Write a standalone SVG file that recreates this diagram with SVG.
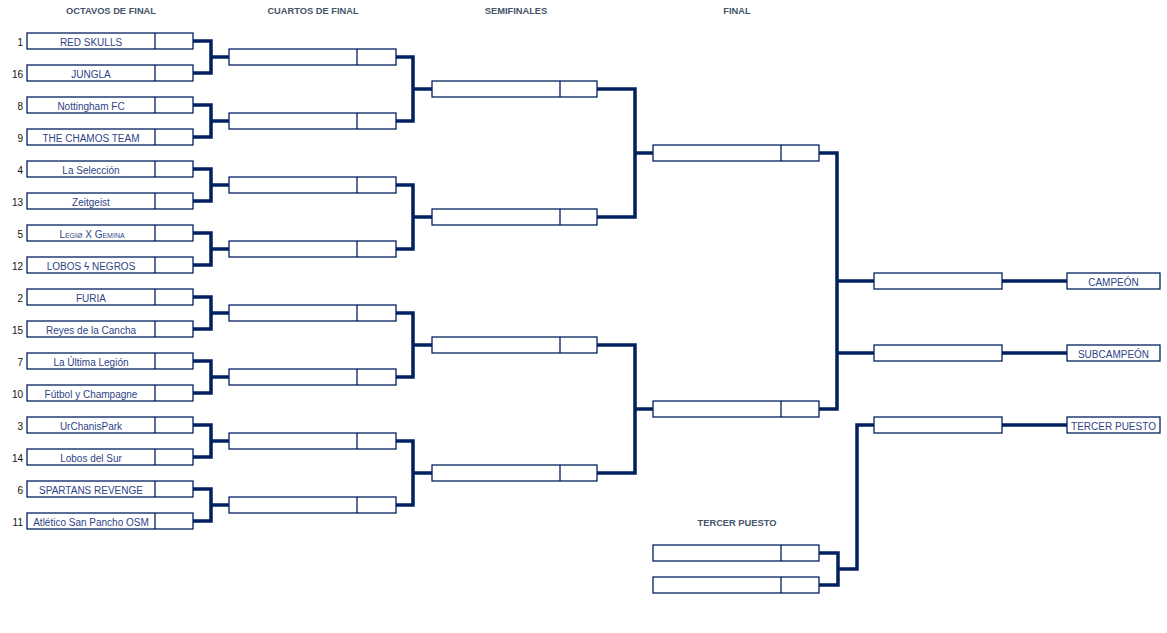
<svg xmlns="http://www.w3.org/2000/svg" width="1167" height="633" viewBox="0 0 1167 633">
<style>
.b{fill:#fff;stroke:#002060;stroke-width:1.3}
.d{stroke:#002060;stroke-width:1.3}
.c{fill:none;stroke:#002060;stroke-width:3.5;stroke-linejoin:miter}
.h{font-family:"Liberation Sans",Arial,sans-serif;font-size:9.3px;font-weight:bold;fill:#44546A;text-anchor:middle}
.t{font-family:"Liberation Sans",Arial,sans-serif;font-size:10px;fill:#2E4485;text-anchor:middle}
.s{font-family:"Liberation Sans",Arial,sans-serif;font-size:10px;fill:#111;text-anchor:end}
</style>
<rect width="1167" height="633" fill="#fff"/>
<g id="headers">
<text class="h" x="111" y="14">OCTAVOS DE FINAL</text>
<text class="h" x="313" y="14">CUARTOS DE FINAL</text>
<text class="h" x="516" y="14">SEMIFINALES</text>
<text class="h" x="737" y="14">FINAL</text>
<text class="h" x="737" y="526">TERCER PUESTO</text>
</g>
<g id="connectors">
<path class="c" d="M193,41H211V73H193M211,57H229"/>
<path class="c" d="M193,105H211V137H193M211,121H229"/>
<path class="c" d="M193,169H211V201H193M211,185H229"/>
<path class="c" d="M193,233H211V265H193M211,249H229"/>
<path class="c" d="M193,297H211V329H193M211,313H229"/>
<path class="c" d="M193,361H211V393H193M211,377H229"/>
<path class="c" d="M193,425H211V457H193M211,441H229"/>
<path class="c" d="M193,489H211V521H193M211,505H229"/>
<path class="c" d="M396,57H413V121H396M413,89H432"/>
<path class="c" d="M396,185H413V249H396M413,217H432"/>
<path class="c" d="M396,313H413V377H396M413,345H432"/>
<path class="c" d="M396,441H413V505H396M413,473H432"/>
<path class="c" d="M597,89H635V217H597M635,153H653"/>
<path class="c" d="M597,345H635V473H597M635,409H653"/>
<path class="c" d="M819,153H837V409H819M837,281H874M837,353H874"/>
<path class="c" d="M1002,281H1067M1002,353H1067M1002,425H1067"/>
<path class="c" d="M819,553H838V585H819M838,569H857V425H874"/>
</g>
<g id="r16-1"><rect class="b" x="27" y="33" width="166" height="16"/><line class="d" x1="155" y1="33" x2="155" y2="49"/><text class="s" x="23" y="45.5">1</text><text class="t" x="91" y="45.5">RED SKULLS</text></g>
<g id="r16-2"><rect class="b" x="27" y="65" width="166" height="16"/><line class="d" x1="155" y1="65" x2="155" y2="81"/><text class="s" x="23" y="77.5">16</text><text class="t" x="91" y="77.5">JUNGLA</text></g>
<g id="r16-3"><rect class="b" x="27" y="97" width="166" height="16"/><line class="d" x1="155" y1="97" x2="155" y2="113"/><text class="s" x="23" y="109.5">8</text><text class="t" x="91" y="109.5">Nottingham FC</text></g>
<g id="r16-4"><rect class="b" x="27" y="129" width="166" height="16"/><line class="d" x1="155" y1="129" x2="155" y2="145"/><text class="s" x="23" y="141.5">9</text><text class="t" x="91" y="141.5">THE CHAMOS TEAM</text></g>
<g id="r16-5"><rect class="b" x="27" y="161" width="166" height="16"/><line class="d" x1="155" y1="161" x2="155" y2="177"/><text class="s" x="23" y="173.5">4</text><text class="t" x="91" y="173.5">La Selección</text></g>
<g id="r16-6"><rect class="b" x="27" y="193" width="166" height="16"/><line class="d" x1="155" y1="193" x2="155" y2="209"/><text class="s" x="23" y="205.5">13</text><text class="t" x="91" y="205.5">Zeitgeist</text></g>
<g id="r16-7"><rect class="b" x="27" y="225" width="166" height="16"/><line class="d" x1="155" y1="225" x2="155" y2="241"/><text class="s" x="23" y="237.5">5</text><text class="t" x="92" y="237.5" font-size="10.5" font-variant="small-caps">Legiø X Gemina</text></g>
<g id="r16-8"><rect class="b" x="27" y="257" width="166" height="16"/><line class="d" x1="155" y1="257" x2="155" y2="273"/><text class="s" x="23" y="269.5">12</text><text class="t" x="91" y="269.5">LOBOS ϟ NEGROS</text></g>
<g id="r16-9"><rect class="b" x="27" y="289" width="166" height="16"/><line class="d" x1="155" y1="289" x2="155" y2="305"/><text class="s" x="23" y="301.5">2</text><text class="t" x="91" y="301.5">FURIA</text></g>
<g id="r16-10"><rect class="b" x="27" y="321" width="166" height="16"/><line class="d" x1="155" y1="321" x2="155" y2="337"/><text class="s" x="23" y="333.5">15</text><text class="t" x="91" y="333.5">Reyes de la Cancha</text></g>
<g id="r16-11"><rect class="b" x="27" y="353" width="166" height="16"/><line class="d" x1="155" y1="353" x2="155" y2="369"/><text class="s" x="23" y="365.5">7</text><text class="t" x="91" y="365.5">La Última Legión</text></g>
<g id="r16-12"><rect class="b" x="27" y="385" width="166" height="16"/><line class="d" x1="155" y1="385" x2="155" y2="401"/><text class="s" x="23" y="397.5">10</text><text class="t" x="91" y="397.5">Fútbol y Champagne</text></g>
<g id="r16-13"><rect class="b" x="27" y="417" width="166" height="16"/><line class="d" x1="155" y1="417" x2="155" y2="433"/><text class="s" x="23" y="429.5">3</text><text class="t" x="91" y="429.5">UrChanisPark</text></g>
<g id="r16-14"><rect class="b" x="27" y="449" width="166" height="16"/><line class="d" x1="155" y1="449" x2="155" y2="465"/><text class="s" x="23" y="461.5">14</text><text class="t" x="91" y="461.5">Lobos del Sur</text></g>
<g id="r16-15"><rect class="b" x="27" y="481" width="166" height="16"/><line class="d" x1="155" y1="481" x2="155" y2="497"/><text class="s" x="23" y="493.5">6</text><text class="t" x="91" y="493.5">SPARTANS REVENGE</text></g>
<g id="r16-16"><rect class="b" x="27" y="513" width="166" height="16"/><line class="d" x1="155" y1="513" x2="155" y2="529"/><text class="s" x="23" y="525.5">11</text><text class="t" x="91" y="525.5" font-size="10.6">Atlético San Pancho OSM</text></g>
<g id="qf-1"><rect class="b" x="229" y="49" width="167" height="16"/><line class="d" x1="357" y1="49" x2="357" y2="65"/></g>
<g id="qf-2"><rect class="b" x="229" y="113" width="167" height="16"/><line class="d" x1="357" y1="113" x2="357" y2="129"/></g>
<g id="qf-3"><rect class="b" x="229" y="177" width="167" height="16"/><line class="d" x1="357" y1="177" x2="357" y2="193"/></g>
<g id="qf-4"><rect class="b" x="229" y="241" width="167" height="16"/><line class="d" x1="357" y1="241" x2="357" y2="257"/></g>
<g id="qf-5"><rect class="b" x="229" y="305" width="167" height="16"/><line class="d" x1="357" y1="305" x2="357" y2="321"/></g>
<g id="qf-6"><rect class="b" x="229" y="369" width="167" height="16"/><line class="d" x1="357" y1="369" x2="357" y2="385"/></g>
<g id="qf-7"><rect class="b" x="229" y="433" width="167" height="16"/><line class="d" x1="357" y1="433" x2="357" y2="449"/></g>
<g id="qf-8"><rect class="b" x="229" y="497" width="167" height="16"/><line class="d" x1="357" y1="497" x2="357" y2="513"/></g>
<g id="sf-1"><rect class="b" x="432" y="81" width="165" height="16"/><line class="d" x1="560" y1="81" x2="560" y2="97"/></g>
<g id="sf-2"><rect class="b" x="432" y="209" width="165" height="16"/><line class="d" x1="560" y1="209" x2="560" y2="225"/></g>
<g id="sf-3"><rect class="b" x="432" y="337" width="165" height="16"/><line class="d" x1="560" y1="337" x2="560" y2="353"/></g>
<g id="sf-4"><rect class="b" x="432" y="465" width="165" height="16"/><line class="d" x1="560" y1="465" x2="560" y2="481"/></g>
<g id="f-1"><rect class="b" x="653" y="145" width="166" height="16"/><line class="d" x1="781" y1="145" x2="781" y2="161"/></g>
<g id="f-2"><rect class="b" x="653" y="401" width="166" height="16"/><line class="d" x1="781" y1="401" x2="781" y2="417"/></g>
<g id="tp-1"><rect class="b" x="653" y="545" width="166" height="16"/><line class="d" x1="781" y1="545" x2="781" y2="561"/></g>
<g id="tp-2"><rect class="b" x="653" y="577" width="166" height="16"/><line class="d" x1="781" y1="577" x2="781" y2="593"/></g>
<g id="res-1"><rect class="b" x="874" y="273" width="128" height="16"/></g>
<g id="res-2"><rect class="b" x="874" y="345" width="128" height="16"/></g>
<g id="res-3"><rect class="b" x="874" y="417" width="128" height="16"/></g>
<g id="lbl-1"><rect class="b" x="1067" y="273" width="93" height="16"/><text class="t" x="1113.5" y="285.5">CAMPEÓN</text></g>
<g id="lbl-2"><rect class="b" x="1067" y="345" width="93" height="16"/><text class="t" x="1113.5" y="357.5">SUBCAMPEÓN</text></g>
<g id="lbl-3"><rect class="b" x="1067" y="417" width="93" height="16"/><text class="t" x="1113.5" y="429.5">TERCER PUESTO</text></g>
</svg>
